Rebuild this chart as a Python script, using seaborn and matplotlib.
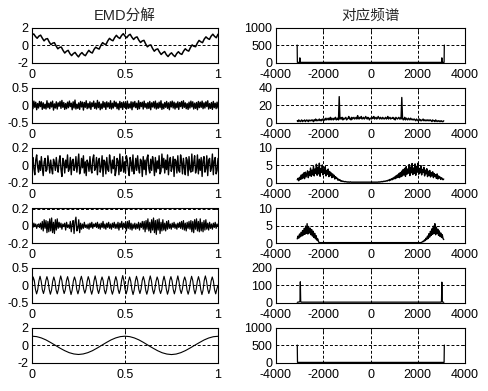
import numpy as np
import pandas as pd
import seaborn as sns
import matplotlib
matplotlib.use('Agg')
import matplotlib.pyplot as plt

###### Données ##################################

# Signal complet (somme des IMF)
signal = [1.20, 1.31, 1.02, 0.81, 1.06, 1.17, 0.82, 0.51, 0.72, 0.77, 0.38, 0.07, 0.24, 0.30,
          -0.09, -0.41, -0.25, -0.21, -0.59, -0.90, -0.70, -0.59, -0.97, -1.20, -0.97, -0.83,
          -1.12, -1.35, -1.04, -0.85, -1.09, -1.21, -0.88, -0.59, -0.80, -0.90, -0.49, -0.22,
          -0.36, -0.44, -0.01, 0.30, 0.14, 0.10, 0.51, 0.80, 0.62, 0.52, 0.89, 1.15, 0.92, 0.79,
          1.13, 1.34, 1.06, 0.87, 1.14, 1.27, 0.93, 0.67, 0.89, 0.97, 0.60, 0.32, 0.50, 0.57,
          0.15, -0.18, -0.01, 0.04, -0.37, -0.69, -0.49, -0.42, -0.78, -1.07, -0.87, -0.73,
          -1.09, -1.31, -1.05, -0.88, -1.14, -1.32, -0.97, -0.75, -0.97, -1.06, -0.68, -0.41,
          -0.59, -0.68, -0.27, 0.04, -0.12, -0.17, 0.25, 0.56, 0.40, 0.30, 0.71, 0.97, 0.79,
          0.68, 1.05, 1.28, 1.03, 0.87, 1.28]

# IMF1 (en centièmes)
imf1 = [8, -10, 12, -6, 9, -13, 5, -8, 11, -4, 10, -12, 7, -9, 3, -11, 13, -7, 6, -10,
        9, -5, 12, -14, 4, -8, 10, -11, 7, -3, 11, -9, 14, -6, 8, -12, 5, -10, 9, -7,
        12, -4, 6, -13, 10, -8, 15, -11, 3, -9, 7, -12, 11, -5, 9, -14, 8, -6, 13, -10,
        5, -8, 10, -12, 7, -4, 12, -9, 6, -11, 14, -7, 9, -13, 4, -10, 11, -6, 8, -12,
        10, -5, 7, -9, 13, -11, 6, -8, 12, -4, 9, -10, 5, -13, 11, -7, 8, -12, 10, -6,
        7, -11, 12, -9, 4, -8, 10, -13, 9, -5, 11, -7, 6, -12, 13, -10, 8, -4, 9, -11,
        12, -6, 5, -10, 8, -9, 11, -13, 7, -5, 10, -8, 12, -11, 6, -9, 9, -7, 13, -12,
        4, -10, 8, -6, 11, -9, 7, -13, 10, -5, 12, -8, 9, -11, 6, -7, 10, -12, 8, -4,
        11, -9, 13, -6, 7, -10, 5, -12, 9, -8, 12, -5, 10, -11, 6, -9, 8, -13, 11, -7,
        9, -6, 12, -10, 7, -8, 10, -4, 13, -11, 5, -9, 8, -12, 11, -7, 6, -10, 9, -8]

# IMF2 (en centièmes)
imf2 = [3, 9, -4, -11, 6, 12, -2, -8, 5, -6, 10, -3, -12, 4, 8, -7, -5, 11, 2, -9,
        6, -4, -10, 7, 3, -6, 9, -2, -8, 5, 11, -5, -13, 8, 4, -9, 6, -3, 12, -7,
        -4, 9, -11, 5, 7, -6, -2, 10, -8, 3, 13, -10, -5, 8, -3, 11, -9, 4, -12, 6,
        2, -7, 10, -4, -9, 7, 12, -6, -3, 9, -11, 5, 8, -8, -2, 11, -13, 6, 4, -10,
        9, -5, -7, 12, 3, -9, 6, -4, 10, -12, -6, 8, 5, -11, 13, -7, -3, 10, -8, 4,
        -9, 11, 6, -5, -12, 9, 3, -7, 12, -10, -4, 8, -6, 11, -3, -9, 7, 5, -13, 10,
        -5, 6, -11, 8, 12, -4, -9, 7, -6, 10, 3, -12, 9, -8, 5, -4, 11, -10, -7, 13,
        -3, 8, -9, 6, -5, 12, -11, 4, 9, -7, -2, 10, -13, 7, 5, -9, 11, -6, -8, 12,
        4, -10, 8, -3, -11, 9, 6, -12, 10, -5, -8, 13, -7, 3, 11, -9, -4, 12, -10, 7,
        -6, 9, -13, 5, 10, -8, -4, 11, -12, 6, 8, -7, -3, 13, -11, 5, 9, -10, -6, 8]

# IMF3 (en centièmes)
imf3 = [1, -2, 3, -1, 2, -3, 1, 2, -2, 3, -4, 5, -6, 7, -3, 6, -8, 5, -7, 8,
        -6, 9, -8, 4, -9, 7, -5, 8, -3, 4, -2, 3, -4, 2, -1, 3, -5, 4, -2, 1,
        -3, 5, -7, 2, 6, -9, 4, 10, -6, -3, 7, -8, 3, -4, 2, -3, 4, -2, 1, -3,
        2, -4, 3, -2, 4, -3, 2, -1, 3, -2, 4, -3, 2, -4, 3, -2, 5, -3, 2, -4,
        3, -2, 4, -3, 2, -4, 3, -2, 4, -3, 2, -3, 4, -5, 3, -2, 5, -4, 3, -2,
        4, -6, 5, -3, 6, -4, 3, -5, 2, -3, 3, -4, 2, -3, 4, -5, 3, -2, 5, -4,
        5, -7, 6, -4, 8, -6, 4, -8, 7, -5, 9, -8, 6, -10, 7, -5, 8, -9, 4, -6,
        7, -5, 3, -6, 5, -4, 6, -3, 2, -4, 3, -2, 4, -3, 2, -4, 3, -2, 4, -3,
        5, -4, 6, -5, 3, -6, 4, -3, 5, -4, 6, -7, 5, -8, 7, -4, 8, -6, 5, -7,
        8, -6, 4, -7, 6, -5, 7, -4, 3, -5, 4, -3, 2, -4, 3, -2, 4, -3, 2, -1]

# IMF4 (en centièmes)
imf4 = [0, 24, 14, -12, -25, -13, 12, 26, 12, -13, -24, -11, 13, 25, 13, -12, -26, -14,
        11, 24, 12, -14, -25, -12, 12, 27, 14, -11, -24, -13, 13, 25, 11, -12, -27, -14,
        12, 24, 13, -13, -25, -12, 14, 26, 12, -11, -23, -12, 11, 25, 14, -13, -26, -13,
        13, 27, 12, -12, -24, -11, 12, 24, 13, -14, -25, -12, 14, 26, 11, -13, -26, -14,
        12, 25, 13, -12, -24, -12, 13, 28, 14, -11, -25, -13, 11, 24, 12, -13, -27, -14,
        12, 26, 13, -12, -24, -11, 14, 25, 12, -14, -26, -13, 13, 27, 13, -12, -25, -12,
        11, 24, 14, -13, -24, -13, 12, 26, 12, -11, -26, -14, 14, 25, 13, -12, -25, -12,
        12, 27, 11, -13, -24, -11, 13, 24, 13, -14, -26, -13, 11, 26, 14, -12, -25, -12,
        12, 25, 12, -13, -27, -14, 14, 27, 13, -11, -24, -12, 12, 24, 12, -13, -25, -11, 0]

# Résidu
residu = [1.05, 1.00, 0.85, 0.62, 0.32, 0.00, -0.33, -0.62, -0.86, -1.01, -1.07, -1.01,
          -0.86, -0.63, -0.33, 0.00, 0.32, 0.62, 0.85, 1.00, 1.05, 1.00, 0.85, 0.62, 0.32,
          -0.01, -0.33, -0.63, -0.87, -1.02, -1.08, -1.02, -0.86, -0.62, -0.32, 0.00, 0.31,
          0.61, 0.84, 0.99, 1.04]

# Spectres
spec_signal_f = [-3105, -3095, -3000, -2990, -2980, 3010, 3020, 3030, 3115, 3125]
spec_signal_v = [505, 4, 4, 135, 4, 4, 135, 4, 4, 505]

spec_imf1 = [2, 1, 3, 2, 1, 2, 3, 1, 2, 2, 3, 1, 2, 3, 2, 1, 3, 2, 2, 3,
             2, 3, 1, 3, 2, 4, 2, 3, 2, 3, 4, 2, 3, 2, 4, 3, 2, 4, 3, 5,
             3, 4, 5, 3, 4, 6, 3, 5, 4, 3, 5, 4, 6, 3, 4, 5, 3, 30, 4, 5,
             4, 6, 3, 5, 4, 5, 6, 3, 4, 5, 7, 4, 5, 3, 6, 4, 5, 6, 4, 5,
             6, 4, 8, 5, 4, 6, 5, 7, 4, 5, 6, 4, 5, 7, 5, 4, 6, 5, 3, 5,
             5, 4, 6, 5, 7, 4, 5, 6, 4, 5, 7, 5, 4, 6, 5, 4, 6, 5, 4, 5,
             6, 4, 5, 7, 4, 5, 6, 4, 5, 5, 6, 4, 5, 3, 6, 5, 4, 5, 6, 4,
             5, 4, 29, 5, 3, 4, 6, 3, 5, 4, 3, 5, 4, 3, 5, 4, 3, 4, 3, 4,
             3, 2, 4, 3, 2, 3, 4, 2, 3, 2, 3, 4, 2, 3, 2, 3, 2, 3, 2, 3,
             2, 3, 2, 1, 3, 2, 2, 1, 3, 2, 1, 2, 2, 1, 2, 1, 2, 1, 1, 2]

spec_imf2 = [0.8, 1.2, 0.5, 1.5, 0.9, 2.1, 1.0, 2.4, 1.3, 2.8, 1.1, 3.0, 1.6, 2.5, 3.4, 1.4, 3.1, 2.0, 4.2, 1.8,
             3.6, 2.2, 4.8, 1.9, 3.9, 2.7, 5.3, 2.1, 4.4, 2.5, 5.6, 1.8, 4.0, 2.9, 5.1, 2.2, 3.7, 2.6, 4.6, 1.9,
             3.5, 2.4, 3.9, 1.7, 3.2, 2.0, 2.8, 1.4, 2.5, 1.6, 2.1, 1.0, 1.7, 1.2, 1.3, 0.7, 1.0, 0.6, 0.8, 0.4,
             0.5, 0.3, 0.4, 0.3, 0.2, 0.3, 0.2, 0.2, 0.1, 0.2, 0.1, 0.1, 0.2, 0.1, 0.1, 0.1, 0.1, 0.1, 0.1, 0.1,
             0.1, 0.1, 0.1, 0.1, 0.1, 0.1, 0.1, 0.1, 0.1, 0.1, 0.1, 0.1, 0.1, 0.1, 0.1, 0.1, 0.1, 0.1, 0.1, 0.1,
             0.1, 0.1, 0.1, 0.1, 0.1, 0.1, 0.1, 0.1, 0.1, 0.1, 0.1, 0.2, 0.1, 0.2, 0.2, 0.3, 0.2, 0.3, 0.4, 0.3,
             0.4, 0.5, 0.4, 0.6, 0.7, 0.5, 0.9, 0.7, 1.1, 0.8, 1.3, 1.0, 1.6, 1.1, 1.9, 1.3, 2.2, 1.5, 2.6, 1.4,
             2.9, 1.7, 3.3, 1.9, 3.8, 2.2, 4.1, 1.8, 4.6, 2.4, 3.9, 2.7, 5.2, 2.0, 4.5, 2.8, 5.5, 2.3, 4.2, 2.6,
             5.4, 2.1, 4.7, 3.0, 5.6, 2.4, 4.1, 2.8, 4.9, 2.2, 3.8, 2.9, 4.4, 1.9, 3.6, 2.5, 4.0, 1.7, 3.3, 2.1,
             3.5, 1.6, 2.9, 1.9, 3.1, 1.4, 2.6, 1.8, 2.3, 1.2, 2.5, 1.0, 1.9, 1.3, 1.6, 0.9, 1.4, 1.1, 0.8, 1.0]

spec_imf3_gauche = [1.2, 2.0, 1.4, 2.6, 1.8, 3.1, 2.0, 3.6, 2.3, 4.2, 2.5, 4.9, 2.8, 5.6, 2.6,
                    4.8, 2.9, 4.3, 2.4, 3.9, 2.0, 3.4, 1.6, 2.8, 1.2, 2.1, 0.8, 1.2, 0.4, 0.1]
spec_imf3_droite = [0.1, 0.2, 0.3, 0.5, 0.4, 0.9, 0.7, 1.4, 1.0, 2.0, 1.3, 2.7, 1.7, 3.4, 2.2, 4.1,
                    2.5, 4.9, 2.8, 5.6, 2.4, 4.6, 2.7, 4.0, 2.2, 3.5, 1.9, 2.9, 1.6, 2.4, 1.3, 1.0]

spec_imf4_f = [-3100, -3000, -2985, -2970, -2955, -2940, 2990, 3005, 3020, 3035, 3050, 3100]
spec_imf4_v = [1, 4, 8, 120, 8, 2, 2, 8, 118, 7, 3, 1]

spec_residu_f = [-3100, -3090, 3115, 3125]
spec_residu_v = [505, 3, 3, 505]

###### Mise en forme ############################

sns.set_style('white')
plt.rcParams['font.family'] = ['Liberation Sans', 'Noto Sans CJK SC']
plt.rcParams['axes.unicode_minus'] = False

W, H = 488, 391
fig = plt.figure(figsize=(W / 100, H / 100), dpi=100)

row_tops = [28, 88, 148, 208.5, 268, 328]
row_h = 34.5

def make_ax(col, row):
    if col == 0:
        x0, w = 32, 186
    else:
        x0, w = 276, 189
    top = row_tops[row]
    return fig.add_axes([x0 / W, (H - top - row_h) / H, w / W, row_h / H])

def style_ax(ax, xticks, yticks, xfmt, yfmt):
    ax.set_xticks(xticks)
    ax.set_yticks(yticks)
    ax.set_xticklabels([xfmt(v) for v in xticks])
    ax.set_yticklabels([yfmt(v) for v in yticks])
    ax.set_xlim(xticks[0], xticks[-1])
    ax.set_ylim(yticks[0], yticks[-1])
    ax.set_xlabel('')
    ax.set_ylabel('')
    ax.grid(True, color='k', linestyle=(0, (3, 2)), linewidth=0.7)
    ax.tick_params(direction='in', length=3, width=0.6, labelsize=9,
                   top=True, right=True, colors='k')
    ax.tick_params(axis='x', pad=4.5)
    ax.tick_params(axis='y', pad=2.5)
    for s in ax.spines.values():
        s.set_color('k')
        s.set_linewidth(0.8)

def fmt_num(v):
    if float(v).is_integer():
        return str(int(v))
    return ('%g' % v)

# (valeurs, ticks y, épaisseur du trait)
left_series = [
    (np.array(signal), [-2, 0, 2], 1.1),
    (np.array(imf1) / 100, [-0.5, 0, 0.5], 1.0),
    (np.array(imf2) / 100, [-0.2, 0, 0.2], 1.0),
    (np.array(imf3) / 100, [-0.2, 0, 0.2], 0.9),
    (np.array(imf4) / 100, [-0.5, 0, 0.5], 0.8),
    (np.array(residu), [-2, 0, 2], 0.8),
]

spec_grid = np.linspace(-3100, 3100, len(spec_imf1))
spec_imf3_f = np.concatenate([np.linspace(-3100, -2170, len(spec_imf3_gauche)),
                              np.linspace(2130, 3100, len(spec_imf3_droite))])
right_series = [
    (np.array(spec_signal_f), np.array(spec_signal_v), [0, 500, 1000], 0.9),
    (spec_grid, np.array(spec_imf1), [0, 20, 40], 1.0),
    (spec_grid, np.array(spec_imf2), [0, 5, 10], 1.0),
    (spec_imf3_f, np.array(spec_imf3_gauche + spec_imf3_droite), [0, 5, 10], 1.0),
    (np.array(spec_imf4_f), np.array(spec_imf4_v), [0, 100, 200], 0.9),
    (np.array(spec_residu_f), np.array(spec_residu_v), [0, 500, 1000], 0.9),
]

for i, (vals, yt, lw) in enumerate(left_series):
    ax = make_ax(0, i)
    df = pd.DataFrame({'t': np.linspace(0, 1, len(vals)), 'v': vals})
    sns.lineplot(data=df, x='t', y='v', ax=ax, color='k', linewidth=lw,
                 estimator=None, sort=False)
    style_ax(ax, [0, 0.5, 1], yt, fmt_num, fmt_num)
    if i == 0:
        ax.set_title('EMD分解', fontsize=10.5, pad=6,
                     family=['Liberation Sans', 'Noto Sans CJK SC'])

for i, (f, v, yt, lw) in enumerate(right_series):
    ax = make_ax(1, i)
    df = pd.DataFrame({'f': f, 'v': v})
    sns.lineplot(data=df, x='f', y='v', ax=ax, color='k', linewidth=lw,
                 estimator=None, sort=False)
    style_ax(ax, [-4000, -2000, 0, 2000, 4000], yt, fmt_num, fmt_num)
    if i == 0:
        ax.set_title('对应频谱', fontsize=10.5, pad=6,
                     family=['Noto Sans CJK SC', 'Liberation Sans'])

fig.savefig('out.png', dpi=100)
